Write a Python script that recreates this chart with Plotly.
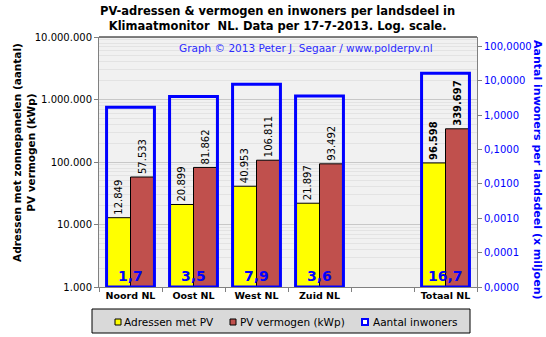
import plotly.graph_objects as go

# ---- data ----
categories = ["Noord NL", "Oost NL", "West NL", "Zuid NL", " ", "Totaal NL"]
adressen = [12849, 20899, 40953, 21897, None, 96598]          # Adressen met PV
vermogen = [57533, 81862, 106811, 93492, None, 339697]        # PV vermogen (kWp)
inwoners = [1.7, 3.5, 7.9, 3.6, None, 16.7]                   # x miljoen
series_names = ["Adressen met PV", "PV vermogen (kWp)", "Aantal inwoners"]

right_min = 1e-5

FONT = "DejaVu Sans"
BLUE = "#0000ff"
YELLOW = "#ffff00"
RED = "#c0504d"

# plot-area geometry in pixels (for paper-coordinate helpers)
W, H = 546, 337
L, R, T, B = 99, 477, 37, 287


def px(xp):
    return (xp - L) / (R - L)


def py(yp):
    return (B - yp) / (B - T)


def nl_int(v):
    return f"{v:,}".replace(",", ".")


def nl_dec(v, d):
    return f"{v:.{d}f}".replace(".", ",")


def lab(v, cat):
    if v is None:
        return ""
    s = nl_int(v)
    return f"<b>{s}</b>" if cat.startswith("Totaal") else s


fig = go.Figure()

fig.add_trace(go.Bar(
    x=categories, y=adressen, name=series_names[0],
    marker=dict(color=YELLOW, line=dict(color="black", width=1)),
    width=0.38, offset=-0.38,
    text=[lab(v, c) for v, c in zip(adressen, categories)],
    textposition="outside", textangle=-90, constraintext="none",
    textfont=dict(family=FONT, size=10, color="black"),
    cliponaxis=False,
))
fig.add_trace(go.Bar(
    x=categories, y=vermogen, name=series_names[1],
    marker=dict(color=RED, line=dict(color="black", width=1)),
    width=0.38, offset=0.0,
    text=[lab(v, c) for v, c in zip(vermogen, categories)],
    textposition="outside", textangle=-90, constraintext="none",
    textfont=dict(family=FONT, size=10, color="black"),
    cliponaxis=False,
))
fig.add_trace(go.Bar(
    x=categories,
    y=[None if v is None else v - right_min for v in inwoners],
    base=right_min,
    name=series_names[2], yaxis="y2",
    marker=dict(color="rgba(0,0,0,0)", line=dict(color=BLUE, width=3)),
    width=0.76, offset=-0.38,
))

annotations = []
for c, v in zip(categories, inwoners):
    if v is None:
        continue
    annotations.append(dict(
        x=c, xref="x", y=py(276), yref="paper", text=f"<b>{nl_dec(v, 1)}</b>",
        showarrow=False, font=dict(family=FONT, size=14, color=BLUE),
        xanchor="center", yanchor="middle",
    ))

annotations += [
    dict(x=px(277), xref="paper", y=py(2), yref="paper",
         text="<b>PV-adressen & vermogen en inwoners per landsdeel in<br>"
              "Klimaatmonitor  NL. Data per 17-7-2013. Log. scale.</b>",
         showarrow=False, font=dict(family=FONT, size=11.5, color="black"),
         xanchor="center", yanchor="top"),
    dict(x=px(24), xref="paper", y=py(153), yref="paper",
         text="<b>Adressen met zonnepanelen (aantal)<br>PV vermogen (kWp)</b>",
         textangle=-90, showarrow=False, font=dict(family=FONT, size=10.5, color="black"),
         xanchor="center", yanchor="middle"),
    dict(x=px(538), xref="paper", y=py(170), yref="paper",
         text="<b>Aantal inwoners per landsdeel (x miljoen)</b>",
         textangle=90, showarrow=False, font=dict(family=FONT, size=11, color=BLUE),
         xanchor="center", yanchor="middle"),
    dict(x=px(306), xref="paper", y=py(48), yref="paper",
         text="Graph © 2013 Peter J. Segaar / www.polderpv.nl",
         showarrow=False, font=dict(family=FONT, size=10.5, color="#2b2bff"),
         xanchor="center", yanchor="middle"),
]

# manual legend (box, swatches, labels)
shapes = [
    dict(type="line", xref="paper", yref="paper", x0=0, x1=1, y0=1, y1=1,
         line=dict(color="black", width=1)),
    dict(type="rect", xref="paper", yref="paper",
         x0=px(92), x1=px(470), y0=py(333), y1=py(309),
         fillcolor="#d9d9d9", line=dict(color="black", width=1), layer="below"),
]
legend_items = [(115, 122, YELLOW, "black", 1), (230, 238, RED, "black", 1), (362, 371, "white", BLUE, 2)]
for (sx, tx, fc, lc, lw), name in zip(legend_items, series_names):
    shapes.append(dict(type="rect", xref="paper", yref="paper",
                       x0=px(sx), x1=px(sx + 6), y0=py(325), y1=py(319),
                       fillcolor=fc, line=dict(color=lc, width=lw)))
    annotations.append(dict(x=px(tx), xref="paper", y=py(322), yref="paper",
                            text=name, showarrow=False, xanchor="left", yanchor="middle",
                            font=dict(family=FONT, size=10.5, color="black")))

fig.update_layout(
    width=W, height=H,
    margin=dict(l=L, r=W - R, t=T, b=H - B, autoexpand=False),
    paper_bgcolor="white", plot_bgcolor="#f1f1f1",
    font=dict(family=FONT, size=11, color="black"),
    separators=",.",
    barmode="overlay",
    showlegend=False,
    xaxis=dict(
        type="category", categoryorder="array", categoryarray=categories,
        range=[-0.5, len(categories) - 0.5],
        showline=True, linecolor="#808080", linewidth=1,
        ticks="outside", tickson="boundaries", ticklen=4, tickcolor="#808080",
        tickfont=dict(family=FONT, size=9.5, color="black"), tickangle=0,
        ticktext=[f"<b>{c}</b>" for c in categories], tickvals=categories,
        showgrid=False, zeroline=False,
    ),
    yaxis=dict(
        type="log", range=[3, 7], dtick=1, tickformat=",d",
        tickfont=dict(family=FONT, size=10, color="black"),
        showline=True, linecolor="#808080", linewidth=1,
        ticks="outside", ticklen=4, tickcolor="#808080",
        showgrid=True, gridcolor="#c8c8c8", gridwidth=1,
        minor=dict(dtick="D1", showgrid=True, gridcolor="#e3e3e3", gridwidth=1),
        zeroline=False,
    ),
    yaxis2=dict(
        type="log", range=[-5, 2.275], overlaying="y", side="right",
        dtick=1, tickformat=".4f",
        tickfont=dict(family=FONT, size=10, color=BLUE),
        showline=True, linecolor="#808080", linewidth=1,
        ticks="outside", ticklen=4, tickcolor="#808080",
        showgrid=False, zeroline=False,
    ),
    annotations=annotations,
    shapes=shapes,
)

fig.write_html("out.html")
